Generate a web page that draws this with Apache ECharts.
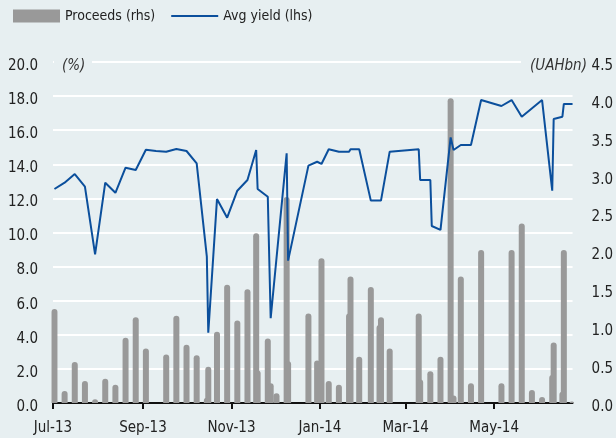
<!DOCTYPE html>
<html>
<head>
<meta charset="utf-8">
<script src="https://cdn.jsdelivr.net/npm/echarts@6/dist/echarts.min.js"></script>
<style>
  html, body { margin: 0; padding: 0; background: #e7eff1; }
  #chart { width: 616px; height: 438px; }
</style>
</head>
<body>
<div id="chart"></div>
<script>
var FONT = "'Liberation Sans Narrow', 'DejaVu Sans Condensed', sans-serif";

// auction dates, proceeds (UAHbn, rhs) and average yield (%, lhs)
var dates = [
  '2013-07-02', '2013-07-09', '2013-07-16', '2013-07-23', '2013-07-30',
  '2013-08-06', '2013-08-13', '2013-08-20', '2013-08-27', '2013-09-03',
  '2013-09-10', '2013-09-17', '2013-09-24', '2013-10-01', '2013-10-08',
  '2013-10-15', '2013-10-16', '2013-10-22', '2013-10-29', '2013-11-05',
  '2013-11-12', '2013-11-18', '2013-11-19', '2013-11-26', '2013-11-28',
  '2013-12-02', '2013-12-09', '2013-12-10', '2013-12-24', '2013-12-30',
  '2014-01-02', '2014-01-07', '2014-01-14', '2014-01-21', '2014-01-22',
  '2014-01-28', '2014-02-05', '2014-02-11', '2014-02-12', '2014-02-18',
  '2014-03-10', '2014-03-11', '2014-03-18', '2014-03-19', '2014-03-25',
  '2014-04-01', '2014-04-03', '2014-04-08', '2014-04-15', '2014-04-22',
  '2014-05-06', '2014-05-13', '2014-05-20', '2014-05-27', '2014-06-03',
  '2014-06-10', '2014-06-11', '2014-06-17', '2014-06-18', '2014-06-24'
];
var proceeds = [
  1.24, 0.16, 0.54, 0.29, 0.05,
  0.32, 0.24, 0.86, 1.13, 0.72,
  null, 0.64, 1.15, 0.77, 0.63,
  0.07, 0.48, 0.94, 1.56, 1.09,
  1.50, 2.24, 0.43, 0.85, 0.26,
  0.13, 2.72, 0.55, 1.18, 0.56,
  1.91, 0.29, 0.24, 1.18, 1.67,
  0.61, 1.53, 1.03, 1.13, 0.72,
  1.18, 0.31, 0.42, null, 0.61,
  4.02, 0.10, 1.67, 0.26, 2.02,
  0.26, 2.02, 2.37, 0.17, 0.08,
  0.37, 0.80, 0.15, 2.02, 0.02
];
var yields = [
  12.55, 12.92, 13.43, 12.69, 8.72,
  12.92, 12.33, 13.80, 13.67, 14.85,
  14.78, 14.74, 14.90, 14.78, 14.05,
  8.58, 4.12, 11.96, 10.87, 12.45,
  13.08, 14.84, 12.55, 12.10, 4.97,
  null, 14.64, 8.35, 13.92, 14.15,
  14.02, 14.88, 14.74, 14.74, 14.88,
  14.88, 11.87, null, 11.87, 14.74,
  14.88, 13.08, 13.08, 10.38, 10.15,
  15.58, 14.84, 15.13, 15.13, 17.77,
  17.42, 17.77, 16.79, null, 17.77,
  12.45, 16.66, 16.79, 17.54, 17.54
];
var tickDates = ['2013-07-01', '2013-09-01', '2013-11-01', '2014-01-01', '2014-03-01', '2014-05-01'];
var tickLabels = ['Jul-13', 'Sep-13', 'Nov-13', 'Jan-14', 'Mar-14', 'May-14'];

function toTime(s) {
  var p = s.split('-');
  return new Date(+p[0], +p[1] - 1, +p[2]).getTime();
}
var tickTimes = tickDates.map(toTime);

var chart = echarts.init(document.getElementById('chart'));

var option = {
  backgroundColor: '#e7eff1',
  animation: false,
  textStyle: { fontFamily: FONT },
  legend: {
    left: 8,
    top: 4,
    itemWidth: 47,
    itemHeight: 13,
    itemGap: 15,
    textStyle: { fontFamily: FONT, fontSize: 14, color: '#222' },
    data: [
      { name: 'Proceeds (rhs)', icon: 'rect' },
      { name: 'Avg yield (lhs)', itemStyle: { opacity: 0 } }
    ]
  },
  grid: { left: 53, right: 42, top: 62, bottom: 35 },
  xAxis: {
    type: 'value',
    min: toTime('2013-07-01'),
    max: toTime('2014-06-24'),
    axisLine: { lineStyle: { color: '#111', width: 2 } },
    axisTick: { show: true, length: 6, lineStyle: { color: '#111', width: 2 }, customValues: tickTimes },
    splitLine: { show: false },
    axisLabel: {
      customValues: tickTimes,
      margin: 18,
      fontFamily: FONT,
      fontSize: 15,
      color: '#222',
      formatter: function (v) {
        var i = tickTimes.indexOf(v);
        return i >= 0 ? tickLabels[i] : '';
      }
    }
  },
  yAxis: [
    {
      type: 'value',
      min: 0,
      max: 20,
      interval: 2,
      axisLine: { show: false },
      axisTick: { show: false },
      splitLine: { lineStyle: { color: '#ffffff', width: 2 } },
      axisLabel: {
        margin: 15,
        fontFamily: FONT,
        fontSize: 15,
        color: '#222',
        verticalAlign: 'top',
        lineHeight: 8,
        formatter: function (v) { return v.toFixed(1); }
      }
    },
    {
      type: 'value',
      min: 0,
      max: 4.5,
      interval: 0.5,
      position: 'right',
      axisLine: { show: false },
      axisTick: { show: false },
      splitLine: { show: false },
      axisLabel: {
        margin: 19,
        fontFamily: FONT,
        fontSize: 15,
        color: '#222',
        verticalAlign: 'top',
        lineHeight: 8,
        formatter: function (v) { return v.toFixed(1); }
      }
    }
  ],
  graphic: [
    { type: 'rect', z: 100, shape: { x: 54, y: 58, width: 38, height: 8 }, style: { fill: '#e7eff1' } },
    { type: 'rect', z: 100, shape: { x: 521, y: 58, width: 60, height: 8 }, style: { fill: '#e7eff1' } },
    { type: 'text', z: 101, left: 62, top: 59, style: { text: '(%)', font: 'italic 15px ' + FONT, fill: '#333' } },
    { type: 'text', z: 101, left: 530, top: 59, style: { text: '(UAHbn)', font: 'italic 15px ' + FONT, fill: '#333' } }
  ],
  series: [
    {
      name: 'Proceeds (rhs)',
      type: 'bar',
      yAxisIndex: 1,
      barWidth: 6,
      itemStyle: { color: '#999999', borderRadius: [3, 3, 0, 0] },
      data: dates.map(function (d, i) { return [toTime(d), proceeds[i]]; })
    },
    {
      name: 'Avg yield (lhs)',
      type: 'line',
      yAxisIndex: 0,
      symbol: 'none',
      connectNulls: true,
      z: 5,
      itemStyle: { color: '#0b4f9c' },
      lineStyle: { color: '#0b4f9c', width: 2 },
      data: dates.map(function (d, i) { return [toTime(d), yields[i]]; })
    }
  ]
};

chart.setOption(option);
</script>
</body>
</html>
